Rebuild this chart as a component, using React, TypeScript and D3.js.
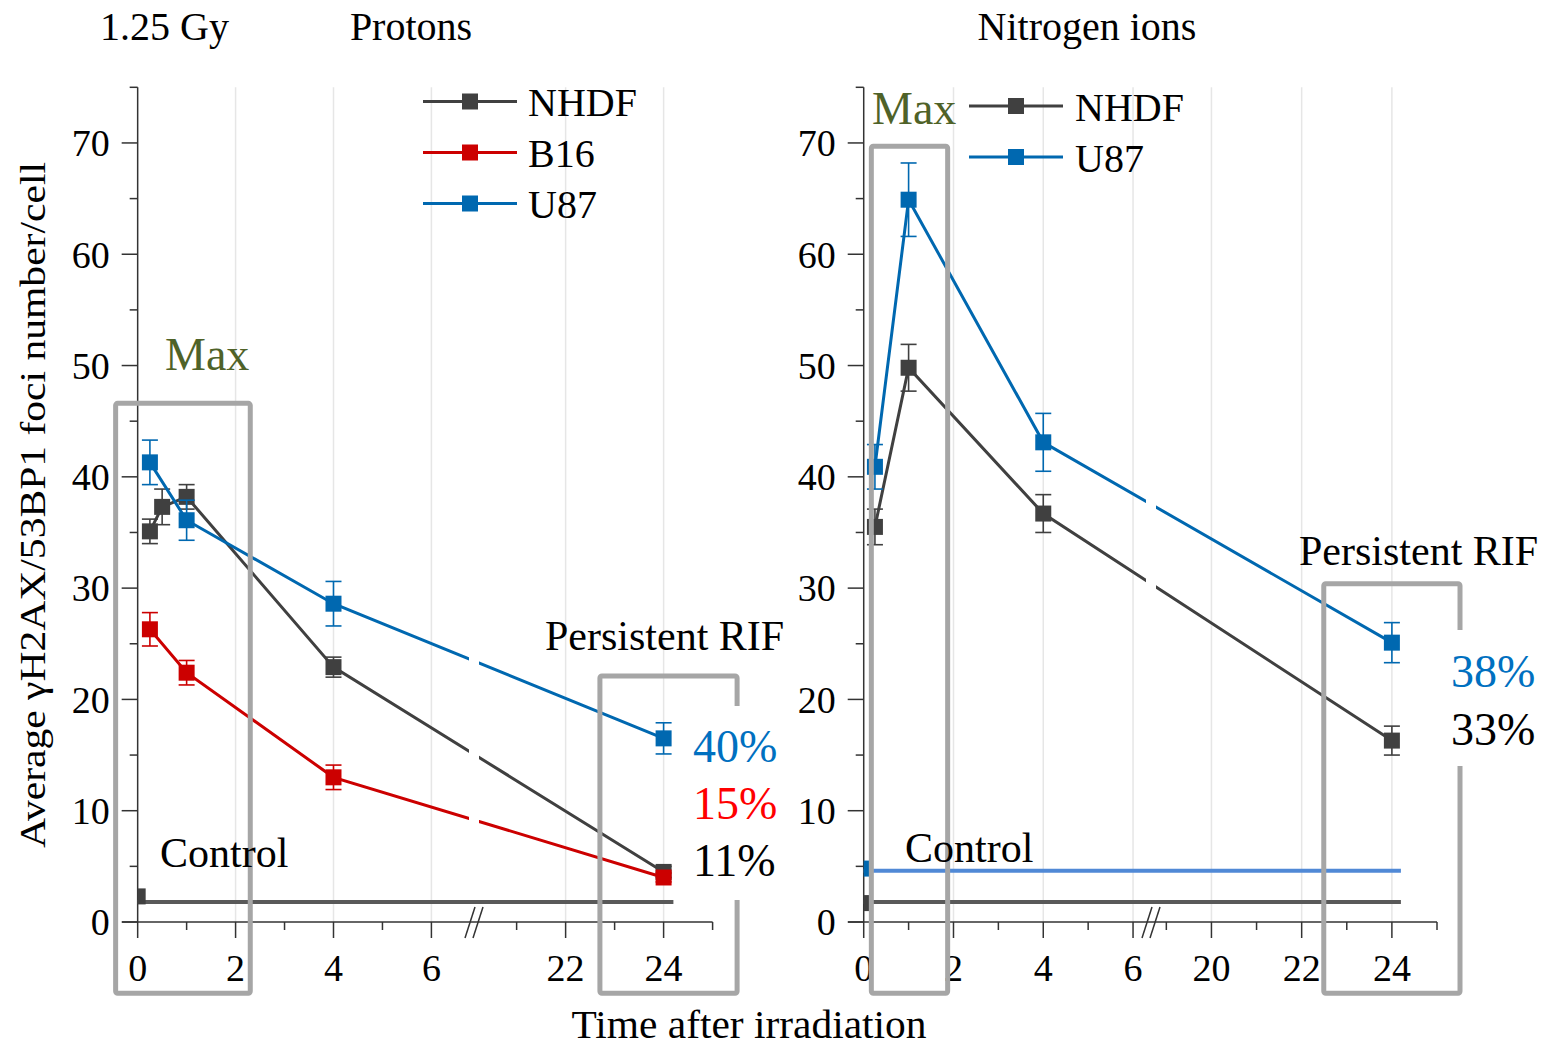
import React from 'react';
import * as d3 from 'd3';

const FONT = '"Liberation Serif", "Times New Roman", serif';

// ---- Protons, 1.25 Gy ----
const protonNhdfTime = [0.25, 0.5, 1, 4, 24];
const protonNhdf = [35.1, 37.3, 38.2, 22.9, 4.5];
const protonNhdfErr = [1.1, 1.6, 1.1, 0.9, 0.5];
const protonTime = [0.25, 1, 4, 24];
const protonB16 = [26.3, 22.4, 13.0, 4.0];
const protonB16Err = [1.5, 1.1, 1.1, 0.4];
const protonU87 = [41.3, 36.1, 28.6, 16.5];
const protonU87Err = [2.0, 1.8, 2.0, 1.4];

// ---- Nitrogen ions ----
const nitrogenTime = [0.25, 1, 4, 24];
const nitrogenNhdf = [35.5, 49.8, 36.7, 16.3];
const nitrogenNhdfErr = [1.6, 2.1, 1.7, 1.3];
const nitrogenU87 = [40.9, 64.9, 43.1, 25.1];
const nitrogenU87Err = [2.0, 3.3, 2.6, 1.8];

// control levels: marker at 0 h, line drawn out to the end
const protonControlMarker = [2.3];
const protonControlLine = [1.8];
const nitrogenControlMarker = [1.7, 4.8];
const nitrogenControlLine = [1.8, 4.6];
const controlEnd = 24.2;

// axis ticks
const yMajor = [0, 10, 20, 30, 40, 50, 60, 70];
const yMinor = [5, 15, 25, 35, 45, 55, 65, 75];
const protonMajor = [0, 2, 4, 6, 22, 24];
const protonMinor = [1, 3, 5, 21, 23, 25];
const nitrogenMajor = [0, 2, 4, 6, 20, 22, 24];
const nitrogenMinor = [1, 3, 5, 19, 21, 23, 25];

const C_NHDF = '#404040';
const C_B16 = '#cc0000';
const C_U87 = '#0068b0';
const C_CTRL_GREY = '#595959';
const C_CTRL_BLUE = '#5089d6';
const C_BOX = '#a6a6a6';
const C_MAX = '#4f6228';

const y = d3.scaleLinear().domain([0, 75]).range([922, 87.3]);

type Series = { name: string; color: string; t: number[]; v: number[]; e: number[] };

const zip = (s: Series) => s.t.map((t, i) => ({ t, v: s.v[i], e: s.e[i] }));

function Panel({ id, x, breakPx, majors, minors, series, ctrlMarker, ctrlLine, ctrlColors }: any) {
  const [x0] = x.range();
  const xEnd = x(25);
  const y0 = y(0);
  const yTop = y(75);
  const axisX = x(0);
  const line = d3.line<any>().x(d => x(d.t)).y(d => y(d.v));
  const ms = 16;
  return (
    <g>
      <defs>
        <clipPath id={`gap-${id}`}>
          <rect x={x0 - 40} y={0} width={breakPx - 5 - (x0 - 40)} height={1048} />
          <rect x={breakPx + 5} y={0} width={xEnd + 40 - breakPx - 5} height={1048} />
        </clipPath>
      </defs>
      {/* grid */}
      {majors.filter((d: number) => d !== 0).map((d: number) => (
        <line key={`g${d}`} x1={x(d)} x2={x(d)} y1={yTop} y2={y0} stroke="#e6e6e6" strokeWidth={1.5} />
      ))}
      {/* axes */}
      <line x1={x0} x2={xEnd} y1={y0} y2={y0} stroke="#333" strokeWidth={1.5} />
      <line x1={axisX} x2={axisX} y1={y0} y2={yTop} stroke="#333" strokeWidth={1.5} />
      {majors.map((d: number) => (
        <g key={`xm${d}`}>
          <line x1={x(d)} x2={x(d)} y1={y0} y2={y0 + 16} stroke="#333" strokeWidth={1.5} />
          <text x={x(d)} y={981} textAnchor="middle" fontSize={38}>{d}</text>
        </g>
      ))}
      {minors.map((d: number) => (
        <line key={`xn${d}`} x1={x(d)} x2={x(d)} y1={y0} y2={y0 + 8} stroke="#333" strokeWidth={1.5} />
      ))}
      {yMajor.map(d => (
        <g key={`ym${d}`}>
          <line x1={axisX - 16} x2={axisX} y1={y(d)} y2={y(d)} stroke="#333" strokeWidth={1.5} />
          <text x={axisX - 28} y={y(d)} dy="0.35em" textAnchor="end" fontSize={38}>{d}</text>
        </g>
      ))}
      {yMinor.map(d => (
        <line key={`yn${d}`} x1={axisX - 8} x2={axisX} y1={y(d)} y2={y(d)} stroke="#333" strokeWidth={1.5} />
      ))}
      {/* axis break */}
      <line x1={breakPx - 9} y1={938} x2={breakPx + 1} y2={907} stroke="#333" strokeWidth={1.5} />
      <line x1={breakPx - 1} y1={938} x2={breakPx + 9} y2={907} stroke="#333" strokeWidth={1.5} />
      {/* control */}
      {ctrlLine.map((v: number, i: number) => (
        <g key={`c${i}`}>
          <line x1={x(0)} x2={x(controlEnd)} y1={y(v)} y2={y(v)} stroke={ctrlColors[i]} strokeWidth={4} />
          <rect x={x(0)} y={y(ctrlMarker[i]) - 8} width={8} height={16} fill={ctrlColors[i] === C_CTRL_BLUE ? C_U87 : C_NHDF} />
        </g>
      ))}
      {/* series */}
      {series.map((s: Series) => {
        const pts = zip(s);
        return (
          <g key={s.name}>
            <path d={line(pts) || ''} fill="none" stroke={s.color} strokeWidth={3} clipPath={`url(#gap-${id})`} />
            {pts.map((p, i) => (
              <g key={i} stroke={s.color} strokeWidth={1.6}>
                <line x1={x(p.t)} x2={x(p.t)} y1={y(p.v - p.e)} y2={y(p.v + p.e)} />
                <line x1={x(p.t) - 8} x2={x(p.t) + 8} y1={y(p.v - p.e)} y2={y(p.v - p.e)} />
                <line x1={x(p.t) - 8} x2={x(p.t) + 8} y1={y(p.v + p.e)} y2={y(p.v + p.e)} />
              </g>
            ))}
            {pts.map((p, i) => (
              <rect key={`m${i}`} x={x(p.t) - ms / 2} y={y(p.v) - ms / 2} width={ms} height={ms} fill={s.color} />
            ))}
          </g>
        );
      })}
    </g>
  );
}

function Box({ x, t0, t1, v0 }: any) {
  const x1 = x(t0), x2 = x(t1), y1 = y(v0), y2 = y(-6.4);
  return <rect x={x1} y={y1} width={x2 - x1} height={y2 - y1} fill="none" stroke={C_BOX} strokeWidth={5} rx={2} />;
}

function Legend({ x0, rows, textX, baseDy }: any) {
  return (
    <g>
      {rows.map((r: any) => (
        <g key={r.name}>
          <line x1={x0} x2={x0 + 94} y1={r.y} y2={r.y} stroke={r.color} strokeWidth={3} />
          <rect x={x0 + 47 - 8} y={r.y - 8} width={16} height={16} fill={r.color} />
          <text x={textX} y={r.y + baseDy} fontSize={40}>{r.name}</text>
        </g>
      ))}
    </g>
  );
}

export default function App() {
  const xP = d3.scaleLinear().domain([-0.32, 6.87, 20.13, 25]).range([122, 474, 474, 712.6]);
  const xN = d3.scaleLinear().domain([-0.35, 6.4, 18.66, 25]).range([848, 1151, 1151, 1437]);

  const protonSeries: Series[] = [
    { name: 'NHDF', color: C_NHDF, t: protonNhdfTime, v: protonNhdf, e: protonNhdfErr },
    { name: 'B16', color: C_B16, t: protonTime, v: protonB16, e: protonB16Err },
    { name: 'U87', color: C_U87, t: protonTime, v: protonU87, e: protonU87Err },
  ];
  const nitrogenSeries: Series[] = [
    { name: 'NHDF', color: C_NHDF, t: nitrogenTime, v: nitrogenNhdf, e: nitrogenNhdfErr },
    { name: 'U87', color: C_U87, t: nitrogenTime, v: nitrogenU87, e: nitrogenU87Err },
  ];

  return (
    <div style={{ position: 'fixed', left: 0, top: 0 }}>
      <svg width={1554} height={1048} fontFamily={FONT} style={{ display: 'block', background: '#fff' }}>
        <Panel id="p" x={xP} breakPx={474} majors={protonMajor} minors={protonMinor} series={protonSeries}
          ctrlMarker={protonControlMarker} ctrlLine={protonControlLine} ctrlColors={[C_CTRL_GREY]} />
        <Panel id="n" x={xN} breakPx={1151} majors={nitrogenMajor} minors={nitrogenMinor} series={nitrogenSeries}
          ctrlMarker={nitrogenControlMarker} ctrlLine={nitrogenControlLine} ctrlColors={[C_CTRL_GREY, C_CTRL_BLUE]} />

        {/* highlight boxes */}
        <Box x={xP} t0={-0.45} t1={2.3} v0={46.6} />
        <Box x={xP} t0={22.7} t1={25.5} v0={22.1} />
        <Box x={xN} t0={0.17} t1={1.87} v0={69.7} />
        <Box x={xN} t0={22.49} t1={25.51} v0={30.4} />

        {/* percentage labels with white backing */}
        <rect x={676} y={706} width={118} height={194} fill="#fff" />
        <text x={693} y={762} fontSize={46} fill="#0070c0">40%</text>
        <text x={693} y={819} fontSize={46} fill="#ff0000">15%</text>
        <text x={693} y={876} fontSize={46} fill="#000">11%</text>
        <rect x={1440} y={630} width={108} height={136} fill="#fff" />
        <text x={1451} y={687} fontSize={46} fill="#0070c0">38%</text>
        <text x={1451} y={745} fontSize={46} fill="#000">33%</text>

        {/* annotations */}
        <text x={165} y={370} fontSize={46} fill={C_MAX}>Max</text>
        <text x={872} y={124} fontSize={46} fill={C_MAX}>Max</text>
        <text x={545} y={650} fontSize={42}>Persistent RIF</text>
        <text x={1299} y={565} fontSize={42}>Persistent RIF</text>
        <text x={160} y={867} fontSize={42}>Control</text>
        <text x={905} y={862} fontSize={42}>Control</text>

        {/* titles */}
        <text x={100} y={40} fontSize={40}>1.25 Gy</text>
        <text x={411} y={40} fontSize={40} textAnchor="middle">Protons</text>
        <text x={1087} y={40} fontSize={40} textAnchor="middle">Nitrogen ions</text>

        <Legend x0={423} textX={528} baseDy={14}
          rows={protonSeries.map((s, i) => ({ name: s.name, color: s.color, y: 101.5 + i * 51 }))} />
        <Legend x0={969} textX={1075} baseDy={15}
          rows={nitrogenSeries.map((s, i) => ({ name: s.name, color: s.color, y: 106 + i * 51 }))} />

        {/* axis titles */}
        <text transform="translate(45,505) rotate(-90)" textAnchor="middle" fontSize={36}
          textLength={686} lengthAdjust="spacingAndGlyphs">Average γH2AX/53BP1  foci number/cell</text>
        <text x={749} y={1038} textAnchor="middle" fontSize={40}
          textLength={355} lengthAdjust="spacingAndGlyphs">Time after irradiation</text>
      </svg>
    </div>
  );
}
